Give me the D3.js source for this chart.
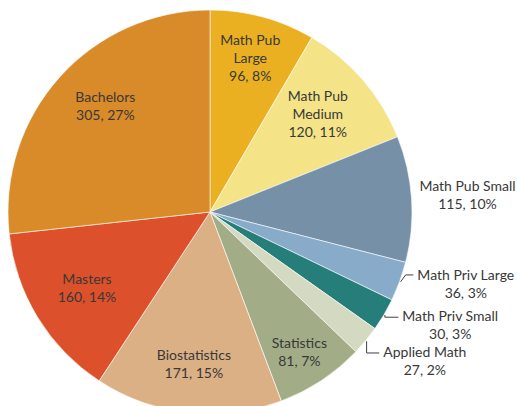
<!DOCTYPE html>
<html>
<head>
<meta charset="utf-8">
<script src="https://cdn.jsdelivr.net/npm/d3@7"></script>
<style>
  body { margin: 0; background: #fff; }
  text { font-family: Lato, "Open Sans", sans-serif; font-size: 14px; fill: #383838; }
</style>
</head>
<body>
<div class="chart"></div>
<script>
var categories = ["Math Pub Large", "Math Pub Medium", "Math Pub Small", "Math Priv Large",
  "Math Priv Small", "Applied Math", "Statistics", "Biostatistics", "Masters", "Bachelors"];
var counts = [96, 120, 115, 36, 30, 27, 81, 171, 160, 305];
var percents = ["8%", "11%", "10%", "3%", "3%", "2%", "7%", "15%", "14%", "27%"];
var colors = ["#ebb021", "#f4e387", "#7590a7", "#88abc9", "#267e7b", "#d4dac1",
  "#a2ad87", "#dcb085", "#dc512b", "#d98a29"];

// label text split into lines
var labelLines = [["Math Pub", "Large"], ["Math Pub", "Medium"], ["Math Pub Small"],
  ["Math Priv Large"], ["Math Priv Small"], ["Applied Math"], ["Statistics"],
  ["Biostatistics"], ["Masters"], ["Bachelors"]];

// label placement: radius from centre and angle shift (degrees) from slice middle
var labelRadius = [158, 145, 258, 266, 266, 262, 167, 154, 145, 148];
var labelShift = [-0.4, -1.2, 0.2, -4.2, -5.1, -4.6, 1.1, -0.3, -0.5, 3.1];
var leader = [false, false, false, true, true, true, false, false, false, false];

var width = 517, height = 406;
var cx = 210, cy = 212, radius = 202;
var lineH = 18;

var svg = d3.select(".chart").append("svg")
  .attr("width", width)
  .attr("height", height);

var g = svg.append("g")
  .attr("transform", "translate(" + cx + "," + cy + ")");

var pie = d3.pie().sort(null).value(function(d) { return d; });
var arcs = pie(counts);

var arc = d3.arc().innerRadius(0).outerRadius(radius);

g.selectAll(".slice")
  .data(arcs)
  .enter().append("path")
    .attr("class", "slice")
    .attr("d", arc)
    .style("fill", function(d, i) { return colors[i]; })
    .style("stroke", "#fff")
    .style("stroke-width", 0.6);

function polar(r, a) {
  return [r * Math.sin(a), -r * Math.cos(a)];
}

arcs.forEach(function(d, i) {
  var mid = (d.startAngle + d.endAngle) / 2;
  var a = mid + labelShift[i] * Math.PI / 180;
  var p = polar(labelRadius[i], a);
  var lines = labelLines[i].concat([counts[i] + ", " + percents[i]]);
  var top = p[1] - (lines.length - 1) * lineH / 2;

  var t = g.append("text")
    .attr("text-anchor", "middle")
    .attr("dominant-baseline", "middle");
  lines.forEach(function(s, j) {
    t.append("tspan")
      .attr("x", p[0])
      .attr("y", top + j * lineH)
      .text(s);
  });

  if (leader[i]) {
    var s = polar(radius + 1, mid);
    var bbox = t.node().getBBox();
    var lx = bbox.x - 4, ly = top;
    var pts;
    if (i === 3) {
      pts = [s, [s[0] + 5, ly - 1], [lx, ly - 1]];
    } else {
      pts = [s, [s[0], ly], [lx, ly]];
    }
    g.append("path")
      .attr("d", d3.line()(pts))
      .style("fill", "none")
      .style("stroke", "#404040")
      .style("stroke-width", 1);
  }
});
</script>
</body>
</html>
